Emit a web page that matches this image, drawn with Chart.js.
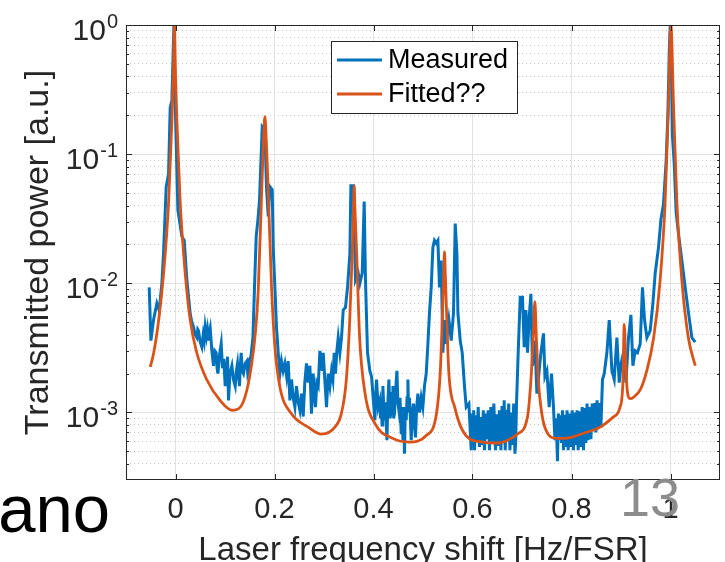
<!DOCTYPE html>
<html>
<head>
<meta charset="utf-8">
<script src="https://cdn.jsdelivr.net/npm/chart.js@4.4.1/dist/chart.umd.min.js"></script>
<style>
    body { margin: 0; background: #fff; }
    #wrap { width: 725px; height: 562px; position: relative; }
</style>
</head>
<body>
<div id="wrap"><canvas id="myChart"></canvas></div>
<script>
// tick labels
var xTicks = [0, 0.2, 0.4, 0.6, 0.8, 1];
var xTickLabels = ['0', '0.2', '0.4', '0.6', '0.8', '1'];
var yDecades = [1e-3, 1e-2, 1e-1, 1];
var yExponents = ['-3', '-2', '-1', '0'];

// measured transmission
var measX = [
    -0.0531, -0.0497, -0.0444, -0.0376, -0.0329, -0.0275, -0.0242, -0.0188, -0.0141, -0.0107, -0.0073, -0.0053, -0.0032, -0.0006, 0.0048, 0.0129, 0.0176, 0.0230,
    0.0297, 0.0331, 0.0364, 0.0398, 0.0432, 0.0450, 0.0465, 0.0500, 0.0533, 0.0560, 0.0580, 0.0600, 0.0625, 0.0645, 0.0667, 0.0685, 0.0701, 0.0735, 0.0768, 0.0795,
    0.0822, 0.0840, 0.0857, 0.0890, 0.0923, 0.0950, 0.0975, 0.1004, 0.1030, 0.1051, 0.1071, 0.1100, 0.1139, 0.1170, 0.1206, 0.1230, 0.1253, 0.1275, 0.1293, 0.1310,
    0.1327, 0.1350, 0.1374, 0.1410, 0.1442, 0.1460, 0.1475, 0.1500, 0.1523, 0.1564,
    0.1596, 0.1630, 0.1665, 0.1697, 0.1752, 0.1806, 0.1838, 0.1873, 0.1907, 0.1954, 0.1974, 0.2008, 0.2040, 0.2075,
    0.2109, 0.2141, 0.2175, 0.2210, 0.2245, 0.2277, 0.2311, 0.2343, 0.2378, 0.2412, 0.2444, 0.2480, 0.2513, 0.2545, 0.2580, 0.2612, 0.2646, 0.2681, 0.2715, 0.2747,
    0.2782, 0.2805, 0.2828, 0.2855, 0.2883, 0.2917, 0.2964, 0.2984, 0.3020, 0.3051, 0.3085, 0.3120, 0.3152, 0.3180, 0.3206, 0.3232, 0.3260, 0.3287, 0.3321, 0.3354,
    0.3388, 0.3434, 0.3475, 0.3523, 0.3543, 0.3590, 0.3636, 0.3691, 0.3725, 0.3772, 0.3812, 0.3838, 0.3879, 0.3927, 0.3960,
    0.4028, 0.4045, 0.4061, 0.4095, 0.4129, 0.4142, 0.4156, 0.4173, 0.4190, 0.4206, 0.4222, 0.4246, 0.4271, 0.4291, 0.4311, 0.4335, 0.4358, 0.4375, 0.4392, 0.4408,
    0.4424, 0.4448, 0.4473, 0.4493, 0.4513, 0.4536, 0.4560, 0.4577, 0.4594, 0.4610, 0.4626, 0.4643, 0.4661, 0.4678, 0.4695, 0.4711, 0.4727, 0.4745, 0.4762, 0.4785,
    0.4808, 0.4828, 0.4848, 0.4872, 0.4897, 0.4930, 0.4964, 0.4997, 0.5030,
    0.5065, 0.5099, 0.5131, 0.5166, 0.5200, 0.5232, 0.5267, 0.5301, 0.5333, 0.5368, 0.5402, 0.5434, 0.5469, 0.5523, 0.5570, 0.5616, 0.5651, 0.5685, 0.5705, 0.5752,
    0.5792, 0.5838, 0.5873, 0.5927,
    0.5974, 0.5991, 0.6008, 0.6024, 0.6040, 0.6065, 0.6089, 0.6115, 0.6141, 0.6168, 0.6196, 0.6219, 0.6242, 0.6266, 0.6291, 0.6317, 0.6343, 0.6370, 0.6398, 0.6431,
    0.6465, 0.6489, 0.6513, 0.6543, 0.6574, 0.6597, 0.6620, 0.6640, 0.6661, 0.6684, 0.6707, 0.6731, 0.6756, 0.6782, 0.6808, 0.6832, 0.6857, 0.6873, 0.6889,
    0.6923, 0.6964, 0.7010, 0.7044, 0.7079, 0.7111, 0.7145, 0.7180, 0.7212, 0.7261, 0.7301, 0.7382, 0.7434, 0.7463, 0.7503, 0.7549, 0.7596, 0.7636,
    0.7665, 0.7690, 0.7717, 0.7735, 0.7752, 0.7775, 0.7798, 0.7818, 0.7838, 0.7862, 0.7887, 0.7910, 0.7933, 0.7960, 0.7988, 0.8014, 0.8040, 0.8065, 0.8089, 0.8112,
    0.8135, 0.8162, 0.8190, 0.8216, 0.8242, 0.8266, 0.8291, 0.8314, 0.8337, 0.8365, 0.8392, 0.8418, 0.8444, 0.8468, 0.8493, 0.8516, 0.8539, 0.8566, 0.8594,
    0.8626, 0.8661, 0.8715, 0.8762, 0.8816, 0.8863, 0.8917, 0.8964, 0.9004, 0.9051, 0.9099, 0.9152, 0.9200, 0.9240, 0.9287, 0.9333, 0.9388, 0.9434, 0.9475, 0.9523,
    0.9590, 0.9644, 0.9691, 0.9758, 0.9806, 0.9859, 0.9913, 0.9947, 0.9974, 0.9994, 1.0014, 1.0040, 1.0075, 1.0115, 1.0162, 1.0230, 1.0297, 1.0364, 1.0432, 1.0499
];
var measY = [
    0.0093, 0.0036, 0.0052, 0.0070, 0.0062, 0.0100, 0.017, 0.056, 0.070, 0.23, 0.26, 0.51, 1.0, 0.25, 0.037, 0.023, 0.0215, 0.0106,
    0.0058, 0.0050, 0.0046, 0.0040, 0.0038, 0.0044, 0.0043, 0.0035, 0.0032, 0.0040, 0.0036, 0.0046, 0.0039, 0.0044, 0.0036, 0.0042, 0.0045, 0.0030, 0.0023, 0.0030,
    0.0029, 0.0022, 0.0020, 0.0028, 0.0034, 0.0022, 0.0026, 0.0016, 0.0022, 0.0027, 0.00124, 0.0020, 0.0023, 0.0018, 0.0016, 0.0021, 0.0024, 0.0019, 0.0016, 0.0023,
    0.0029, 0.0021, 0.0020, 0.0024, 0.0025, 0.0020, 0.0021, 0.0026, 0.0027, 0.0038,
    0.0093, 0.023, 0.031, 0.044, 0.163, 0.154, 0.056, 0.033, 0.056, 0.053, 0.019, 0.0093, 0.0046, 0.0029,
    0.0020, 0.0025, 0.0021, 0.0024, 0.0019, 0.0025, 0.00124, 0.0018, 0.0013, 0.0011, 0.0016, 0.0012, 0.00104, 0.0014, 0.00093, 0.0017, 0.0024, 0.0017, 0.0023, 0.00098,
    0.0020, 0.0014, 0.0011, 0.0017, 0.0016, 0.0030, 0.0021, 0.0029, 0.0017, 0.0011, 0.0020, 0.0016, 0.0021, 0.0018, 0.0029, 0.0020, 0.0030, 0.0038, 0.0029, 0.0038,
    0.0062, 0.0065, 0.0093, 0.017, 0.057, 0.057, 0.0106, 0.012, 0.0100, 0.012, 0.043, 0.0106, 0.0029, 0.0021, 0.0019,
    0.00087, 0.0014, 0.0018, 0.0011, 0.00124, 0.0009, 0.00117, 0.0008, 0.0016, 0.0011, 0.00087, 0.0012, 0.00061, 0.0012, 0.0018, 0.0009, 0.00104, 0.0014, 0.0016, 0.0009,
    0.00098, 0.0015, 0.0021, 0.0012, 0.00104, 0.0013, 0.00068, 0.0011, 0.00061, 0.0010, 0.00048, 0.0011, 0.00087, 0.0013, 0.0018, 0.0010, 0.0013, 0.0009, 0.00061, 0.0010,
    0.00117, 0.0008, 0.00064, 0.0011, 0.0014, 0.0010, 0.0013, 0.0011, 0.0016,
    0.0020, 0.0034, 0.0059, 0.0093, 0.019, 0.0215, 0.0205, 0.0215, 0.0093, 0.015, 0.0029, 0.0052, 0.0034, 0.0052, 0.0036, 0.0059, 0.029, 0.017, 0.0059, 0.0036,
    0.0029, 0.0016, 0.0011, 0.00117,
    0.00051, 0.00098, 0.00058, 0.00104, 0.00051, 0.00095, 0.00060, 0.0011, 0.00054, 0.00092, 0.00056, 0.00104, 0.00051, 0.00098, 0.00062, 0.00104, 0.00051, 0.00110, 0.00057, 0.00117,
    0.00051, 0.00097, 0.00055, 0.00104, 0.00051, 0.00112, 0.00058, 0.00124, 0.00051, 0.00105, 0.00060, 0.00117, 0.00051, 0.00100, 0.00056, 0.00117, 0.00048, 0.00060, 0.00117,
    0.0029, 0.0078, 0.0078, 0.0032, 0.0062, 0.0029, 0.0055, 0.0083, 0.0023, 0.0036, 0.0014, 0.0029, 0.0041, 0.0019, 0.0021, 0.0011, 0.0020, 0.0011,
    0.00061, 0.00090, 0.00042, 0.00098, 0.00061, 0.00095, 0.00058, 0.00104, 0.00051, 0.00096, 0.00054, 0.00104, 0.00051, 0.00098, 0.00054, 0.00104, 0.00051, 0.00100, 0.00056, 0.00104,
    0.00051, 0.00102, 0.00054, 0.0011, 0.00051, 0.00108, 0.00058, 0.00117, 0.00061, 0.00110, 0.00062, 0.00117, 0.00072, 0.00118, 0.00070, 0.00124, 0.00077, 0.00118, 0.00077,
    0.0018, 0.0020, 0.0029, 0.0052, 0.0021, 0.0018, 0.0038, 0.0017, 0.0024, 0.0029, 0.0017, 0.0038, 0.0057, 0.0023, 0.0030, 0.0029, 0.0034, 0.0093, 0.0052, 0.0038,
    0.0043, 0.0070, 0.012, 0.019, 0.031, 0.0415, 0.090, 0.206, 0.60, 1.0, 0.60, 0.137, 0.085, 0.035, 0.024, 0.015, 0.0093, 0.0059, 0.0038, 0.0035
];

// fitted curve
var fitX = [
    -0.051, -0.044, -0.034, -0.024, -0.014, -0.0073, -0.0045, -0.0022, 0.0001, 0.0028,
    0.0095, 0.0196, 0.0297, 0.043, 0.063, 0.090, 0.114, 0.131, 0.144, 0.154,
    0.161, 0.167, 0.174, 0.1775, 0.1806, 0.1837, 0.187, 0.194, 0.2008, 0.211,
    0.234, 0.268, 0.295, 0.322, 0.335, 0.345, 0.352, 0.357, 0.3595, 0.361,
    0.3625, 0.366, 0.372, 0.383, 0.403, 0.439, 0.473, 0.506, 0.527, 0.535,
    0.540, 0.542, 0.5434, 0.545, 0.547, 0.552, 0.564, 0.587, 0.621, 0.652,
    0.671, 0.691, 0.711, 0.718, 0.7226, 0.726, 0.729, 0.733, 0.739, 0.747,
    0.770, 0.797, 0.824, 0.858, 0.884, 0.898, 0.904, 0.9065, 0.9095, 0.9125,
    0.9186, 0.925, 0.939, 0.952, 0.966, 0.979, 0.989, 0.996, 1.0008, 1.006,
    1.013, 1.023, 1.036, 1.050
];
var fitY = [
    0.00225, 0.0029, 0.0052, 0.012, 0.042, 0.18, 0.4, 1.0, 0.4, 0.18,
    0.042, 0.012, 0.0052, 0.0029, 0.0018, 0.00124, 0.00104, 0.0011, 0.00148, 0.0024,
    0.0040, 0.0085, 0.05, 0.12, 0.195, 0.12, 0.056, 0.0094, 0.0032, 0.00157,
    0.00098, 0.00077, 0.00068, 0.00077, 0.00098, 0.00177, 0.0052, 0.017, 0.038, 0.057,
    0.038, 0.017, 0.0038, 0.0014, 0.00082, 0.00063, 0.00059, 0.00066, 0.00097, 0.0021,
    0.007, 0.012, 0.0175, 0.012, 0.007, 0.0021, 0.0011, 0.00066, 0.00059, 0.00058,
    0.00061, 0.00068, 0.00092, 0.00177, 0.0038, 0.0072, 0.0038, 0.00177, 0.00104, 0.00075,
    0.00063, 0.00064, 0.00069, 0.00077, 0.00092, 0.0011, 0.00177, 0.0048, 0.0025, 0.0015,
    0.00128, 0.00131, 0.0015, 0.0021, 0.0038, 0.0105, 0.0415, 0.247, 1.0, 0.247,
    0.0415, 0.0105, 0.0038, 0.0023
];

var FONT = '"Liberation Sans", Arial, Helvetica, sans-serif';
var AXIS_COLOR = '#262626';

function isDecade(v) {
    var l = Math.log10(v);
    return Math.abs(l - Math.round(l)) < 1e-6;
}

function y_grid_values() {
    var vals = [];
    for (var e = -4; e <= 0; e++) {
        for (var m = 1; m <= 9; m++) {
            var v = m * Math.pow(10, e);
            if (v > 3.05e-4 && v <= 1.0001) vals.push(v);
        }
    }
    return vals;
}

function to_points(xs, ys) {
    return xs.map(function (x, i) { return {x: x, y: ys[i]}; });
}

// axes box, inward ticks, tick labels, titles, legend
var matlabAxes = {
    id: 'matlabAxes',
    afterDraw: function (chart) {
        var ctx = chart.ctx, a = chart.chartArea;
        var xs = chart.scales.x, ys = chart.scales.y;
        ctx.save();

        ctx.strokeStyle = AXIS_COLOR;
        ctx.lineWidth = 1;
        ctx.beginPath();
        xTicks.forEach(function (v) {
            var px = Math.round(xs.getPixelForValue(v)) + 0.5;
            ctx.moveTo(px, a.bottom); ctx.lineTo(px, a.bottom - 6);
            ctx.moveTo(px, a.top); ctx.lineTo(px, a.top + 6);
        });
        ys.ticks.forEach(function (t) {
            var py = Math.round(ys.getPixelForValue(t.value)) + 0.5;
            var len = isDecade(t.value) ? 6 : 3;
            ctx.moveTo(a.left, py); ctx.lineTo(a.left + len, py);
            ctx.moveTo(a.right, py); ctx.lineTo(a.right - len, py);
        });
        ctx.stroke();
        ctx.strokeRect(Math.round(a.left) + 0.5, Math.round(a.top) + 0.5,
            Math.round(a.width) - 1, Math.round(a.height) - 1);

        // x tick labels
        ctx.fillStyle = AXIS_COLOR;
        ctx.font = '29px ' + FONT;
        ctx.textAlign = 'center';
        ctx.textBaseline = 'alphabetic';
        xTicks.forEach(function (v, i) {
            ctx.fillText(xTickLabels[i], xs.getPixelForValue(v), 518);
        });

        // y tick labels 10^n
        yDecades.forEach(function (v, i) {
            var py = ys.getPixelForValue(v);
            ctx.font = '20px ' + FONT;
            var ew = ctx.measureText(yExponents[i]).width;
            ctx.textAlign = 'right';
            ctx.fillText(yExponents[i], 118, py + 3);
            ctx.font = '30px ' + FONT;
            ctx.fillText('10', 118 - ew - 1, py + 15);
        });

        // axis titles
        ctx.font = '33px ' + FONT;
        ctx.textAlign = 'center';
        ctx.fillText('Laser frequency shift [Hz/FSR]', (a.left + a.right) / 2, 560);
        ctx.save();
        ctx.font = '34px ' + FONT;
        ctx.translate(48, (a.top + a.bottom) / 2);
        ctx.rotate(-Math.PI / 2);
        ctx.fillText('Transmitted power [a.u.]', 0, 0);
        ctx.restore();

        // legend
        var lx = 331, ly = 41, lw = 186, lh = 72;
        ctx.fillStyle = '#fff';
        ctx.fillRect(lx, ly, lw, lh);
        ctx.strokeStyle = AXIS_COLOR;
        ctx.lineWidth = 1;
        ctx.strokeRect(lx + 0.5, ly + 0.5, lw, lh);
        ctx.font = '27px ' + FONT;
        ctx.textAlign = 'left';
        ctx.textBaseline = 'middle';
        chart.data.datasets.forEach(function (ds, i) {
            var row = ly + 19 + i * 34;
            ctx.strokeStyle = ds.borderColor;
            ctx.lineWidth = 3;
            ctx.beginPath();
            ctx.moveTo(337, row); ctx.lineTo(382, row);
            ctx.stroke();
            ctx.fillStyle = '#000';
            ctx.fillText(ds.label, 388, row + 1);
        });

        // slide leftovers around the figure
        ctx.textBaseline = 'alphabetic';
        ctx.fillStyle = '#000';
        ctx.textAlign = 'right';
        ctx.font = '67px ' + FONT;
        ctx.fillText('ano', 110, 532);
        ctx.fillStyle = '#8c8c8c';
        ctx.textAlign = 'left';
        ctx.font = '54px ' + FONT;
        ctx.fillText('13', 620, 516);

        ctx.restore();
    }
};

var yGrid = y_grid_values();

new Chart('myChart', {
    type: 'line',
    data: {
        datasets: [{
            label: 'Measured',
            data: to_points(measX, measY),
            borderColor: '#0072BD',
            borderWidth: 3,
            pointRadius: 0,
            order: 2
        }, {
            label: 'Fitted??',
            data: to_points(fitX, fitY),
            borderColor: '#D95319',
            borderWidth: 2.8,
            pointRadius: 0,
            cubicInterpolationMode: 'monotone',
            order: 1
        }]
    },
    options: {
        responsive: true,
        maintainAspectRatio: false,
        animation: false,
        layout: {
            padding: {left: 126, right: 5, top: 25, bottom: 82}
        },
        plugins: {
            legend: {display: false},
            tooltip: {enabled: false}
        },
        scales: {
            x: {
                type: 'linear',
                min: -0.1,
                max: 1.1,
                afterBuildTicks: function (s) {
                    s.ticks = xTicks.map(function (v) { return {value: v}; });
                },
                ticks: {display: false},
                grid: {color: '#e2e2e2', lineWidth: 1, drawTicks: false},
                border: {display: false}
            },
            y: {
                type: 'logarithmic',
                min: 3e-4,
                max: 1,
                afterBuildTicks: function (s) {
                    s.ticks = yGrid.map(function (v) { return {value: v, major: isDecade(v)}; });
                },
                ticks: {display: false},
                grid: {
                    color: function (c) { return (c.tick && !isDecade(c.tick.value)) ? '#c8c8c8' : '#e2e2e2'; },
                    lineWidth: 1,
                    drawTicks: false
                },
                border: {
                    display: false,
                    dash: function (c) { return (c.tick && !isDecade(c.tick.value)) ? [1, 3] : []; }
                }
            }
        }
    },
    plugins: [matlabAxes]
});
</script>
</body>
</html>
